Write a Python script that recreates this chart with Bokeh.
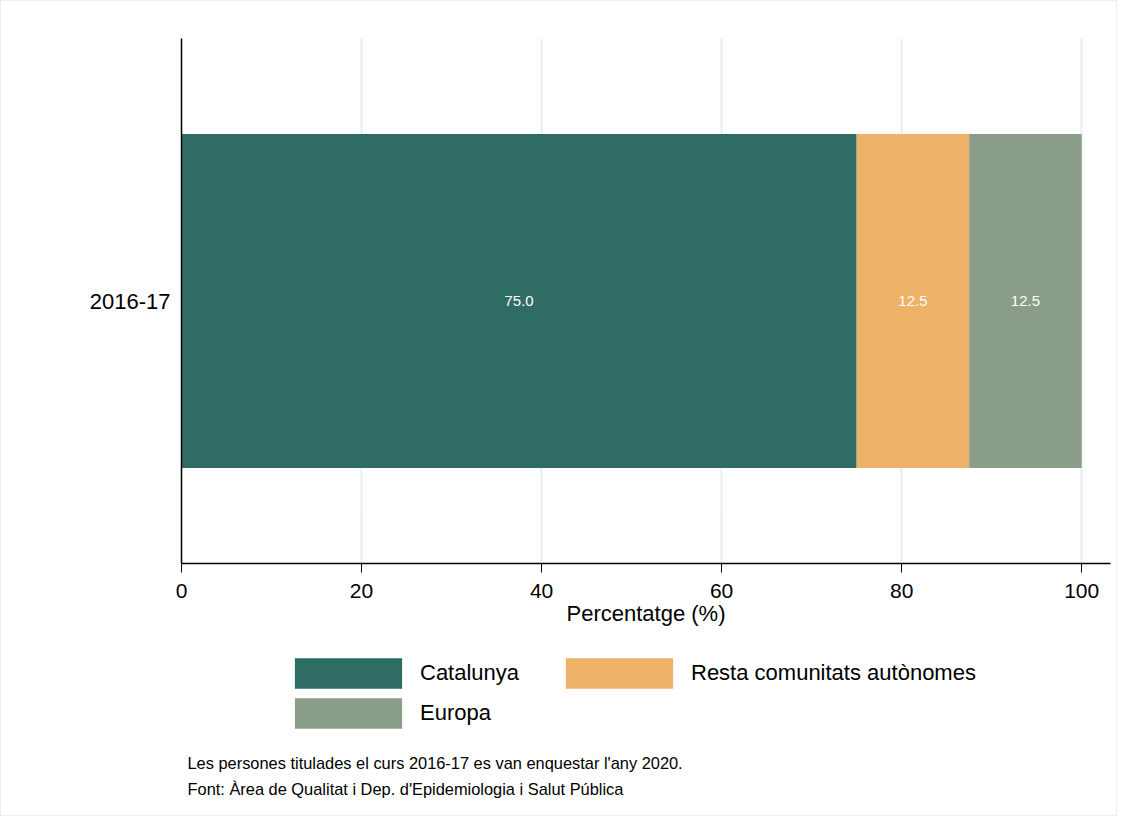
from bokeh.plotting import figure
from bokeh.layouts import column
from bokeh.models import (ColumnDataSource, FactorRange, Range1d, Legend, LegendItem,
                          Label, FixedTicker, LabelSet)
from bokeh.core.properties import value
from bokeh.embed import file_html
from bokeh.resources import INLINE

categories = ["2016-17"]
series = ["Catalunya", "Resta comunitats autònomes", "Europa"]
catalunya = [75.0]
resta = [12.5]
europa = [12.5]
colors = ["#2e6c64", "#edb168", "#8a9d89"]
x_ticks = [0, 20, 40, 60, 80, 100]
note1 = "Les persones titulades el curs 2016-17 es van enquestar l'any 2020."
note2 = "Font: Àrea de Qualitat i Dep. d'Epidemiologia i Salut Pública"

FONT = "Liberation Sans"
W = 1115

p = figure(width=W, height=639, output_backend="svg", toolbar_location=None,
           y_range=FactorRange(factors=categories), x_range=Range1d(0, 103.2),
           min_border_left=180, min_border_top=37, min_border_right=6, min_border_bottom=77)
p.outline_line_color = None

src = ColumnDataSource(dict(cat=categories, Catalunya=catalunya,
                            Resta=resta, Europa=europa))
vals = [catalunya, resta, europa]
keys = ["Catalunya", "Resta", "Europa"]
renderers = p.hbar_stack(keys, y="cat", height=0.636, color=colors, source=src, line_color=None)

lx, ly, lt = [], [], []
for i, c in enumerate(categories):
    left = 0.0
    for v in vals:
        lx.append(left + v[i] / 2)
        ly.append(c)
        lt.append(f"{v[i]:.1f}")
        left += v[i]
lsrc = ColumnDataSource(dict(x=lx, y=ly, t=lt))
p.add_layout(LabelSet(x="x", y="y", text="t", source=lsrc, text_color="white",
                      text_font_size="15px", text_font=value(FONT), text_align="center",
                      text_baseline="middle"))

p.xaxis.ticker = FixedTicker(ticks=x_ticks)
p.xaxis.axis_label = "Percentatge (%)"
p.xaxis.axis_label_text_font = FONT
p.xaxis.axis_label_text_font_size = "22px"
p.xaxis.axis_label_text_font_style = "normal"
p.xaxis.axis_label_text_color = "black"
p.xaxis.axis_label_standoff = 0
p.xaxis.major_label_text_font = FONT
p.xaxis.major_label_text_font_size = "21px"
p.xaxis.major_label_text_color = "black"
p.xaxis.major_tick_out = 9
p.xaxis.major_tick_in = 0
p.xaxis.minor_tick_out = 0
p.xaxis.minor_tick_in = 0
p.xaxis.major_label_standoff = 11
p.xaxis.axis_line_color = "black"
p.xaxis.axis_line_width = 1.5

p.yaxis.major_label_text_font = FONT
p.yaxis.major_label_text_font_size = "22px"
p.yaxis.major_label_text_color = "black"
p.yaxis.major_tick_out = 0
p.yaxis.major_tick_in = 0
p.yaxis.major_label_standoff = 11
p.yaxis.axis_line_color = "black"
p.yaxis.axis_line_width = 1.5

p.ygrid.grid_line_color = None
p.xgrid.grid_line_color = "#e6eff0"
p.xgrid.grid_line_width = 2

# legend + notes panel (swatch renderers sit outside the visible y range)
q = figure(width=W, height=175, output_backend="svg", toolbar_location=None,
           x_range=Range1d(0, 1), y_range=Range1d(0, 1),
           min_border_left=0, min_border_right=0, min_border_top=0, min_border_bottom=0)
q.axis.visible = False
q.grid.grid_line_color = None
q.outline_line_color = None
swatches = [q.hbar(y=[-5], left=[0], right=v, height=1, color=c, line_color=None)
            for v, c in zip(vals, colors)]
sw = dict(zip(series, swatches))
order = ["Catalunya", "Europa", "Resta comunitats autònomes"]
items = [LegendItem(label=s, renderers=[sw[s]]) for s in order]
legend = Legend(items=items, ncols=2, glyph_width=134, glyph_height=38,
                label_text_font=FONT, label_text_font_size="22px",
                label_text_color="black", label_height=38,
                label_standoff=5, label_width=130, spacing=2, padding=0,
                margin=0, border_line_color=None, background_fill_alpha=0,
                location=(100, 83))
q.add_layout(legend, "center")

for t, yy in [(note1, 53), (note2, 27)]:
    q.add_layout(Label(x=6, y=yy, x_units="screen", y_units="screen", text=t,
                       text_font=FONT, text_font_size="16.4px", text_baseline="middle",
                       text_color="black"))

layout = column(p, q, spacing=0, styles={"border": "1px solid #eeeeee"})
open("out.html", "w").write(file_html(layout, INLINE))
